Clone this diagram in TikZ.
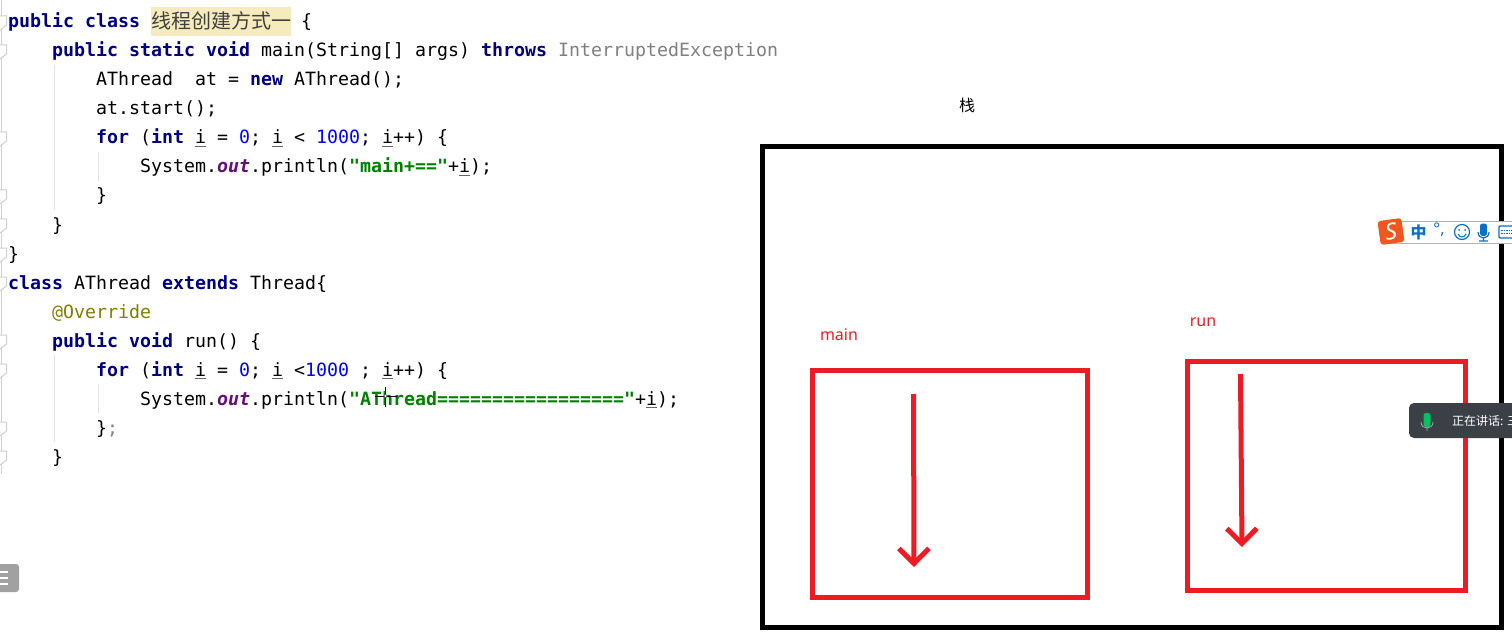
\documentclass[tikz,border=0pt]{standalone}
\usepackage{fontspec}
\setmainfont{Noto Sans}
\setmonofont{DejaVu Sans Mono}
\newfontfamily\cjkf{Noto Sans CJK SC}
\usetikzlibrary{arrows.meta}
\definecolor{kwc}{HTML}{000080}
\definecolor{numc}{HTML}{0000FF}
\definecolor{strc}{HTML}{008000}
\definecolor{annc}{HTML}{808000}
\definecolor{grc}{HTML}{808080}
\definecolor{purc}{HTML}{660E7A}
\definecolor{redc}{HTML}{ED1C24}
\definecolor{hlc}{HTML}{F6EBBC}
\definecolor{guide}{HTML}{E2E2E2}
\definecolor{gutterc}{HTML}{D0D0D0}
\definecolor{imeb}{HTML}{0F6FC0}
\definecolor{popc}{HTML}{3B3F46}
\definecolor{micg}{HTML}{00C060}
\definecolor{sogouc}{HTML}{F0561E}
\newcommand\kw[1]{\textcolor{kwc}{\bfseries #1}}
\newcommand\nm[1]{\textcolor{numc}{#1}}
\newcommand\st[1]{\textcolor{strc}{\bfseries #1}}
\newcommand\ou{\textcolor{purc}{\bfseries\itshape out}}
\newcommand\ui{\rlap{\textcolor{black!60}{\rule[-3pt]{11pt}{1pt}}}i}
\tikzset{
  codeline/.style={anchor=base west,inner sep=0pt,font=\ttfamily\fontsize{18.27}{20}\selectfont,text=black},
  labelred/.style={inner sep=0pt,text=redc,font=\fontsize{16}{18}\selectfont},
  redbox/.style={draw=redc,line width=4.5pt,inner sep=0pt},
  redarrow/.style={draw=redc,line width=5pt,-{Straight Barb[length=15pt,width=30pt,line width=5pt]}},
  guideline/.style={draw=guide,line width=1pt},
  foldmark/.style={draw=gutterc,line width=1pt,fill=white},
  imeglyph/.style={inner sep=0pt,text=imeb},
}
\begin{document}
\begin{tikzpicture}[x=1pt,y=-1pt]
\useasboundingbox (0,0) rectangle (1512,639);
\clip (0,0) rectangle (1512,639);
\fill[white] (0,0) rectangle (1512,639);
% gutter
\draw[draw=gutterc,line width=1pt] (1,0) -- (1,474);
\foreach \y in {22,51,138,196,225,254,283,341,370,428,457}
  \draw[foldmark] (0,\y-6) -- (6.5,\y-6) -- (6.5,\y+3) -- (0,\y+8);
% indent guides
\draw[guideline] (54.5,65) -- (54.5,210);
\draw[guideline] (98.5,152) -- (98.5,181);
\draw[guideline] (54.5,355) -- (54.5,442);
\draw[guideline] (98.5,384) -- (98.5,413);
% highlight
\fill[hlc] (151,7) rectangle (291,36);
% code
\node[codeline] (l1) at (8,28) {\kw{public class}};
\node[anchor=base west,inner sep=0pt,font=\cjkf\fontsize{20}{22}\selectfont,text=black!75] (title) at (151,28.5) {线程创建方式一};
\node[codeline] (l1b) at (301,28) {\{};
\node[codeline] (l2) at (52,57) {\kw{public static void} main(String[] args) \kw{throws} \textcolor{grc}{InterruptedException}};
\node[codeline] (l3) at (96,86) {AThread\ \ at = \kw{new} AThread();};
\node[codeline] (l4) at (96,115) {at.start();};
\node[codeline] (l5) at (96,144) {\kw{for} (\kw{int} \ui{} = \nm{0}; \ui{} < \nm{1000}; \ui{}++) \{};
\node[codeline] (l6) at (140,173) {System.\ou.println(\st{"main+=="}+\ui{});};
\node[codeline] (l7) at (96,202) {\}};
\node[codeline] (l8) at (52,231) {\}};
\node[codeline] (l9) at (8,260) {\}};
\node[codeline] (l10) at (8,289) {\kw{class} AThread \kw{extends} Thread\{};
\node[codeline] (l11) at (52,318) {\textcolor{annc}{@Override}};
\node[codeline] (l12) at (52,347) {\kw{public void} run() \{};
\node[codeline] (l13) at (96,376) {\kw{for} (\kw{int} \ui{} = \nm{0}; \ui{} <\nm{1000} ; \ui{}++) \{};
\node[codeline] (l14) at (140,405) {System.\ou.println(\st{"AThread================="}+\ui{});};
\node[codeline] (l15) at (96,434) {\}\textcolor{grc}{;}};
\node[codeline] (l16) at (52,463) {\}};
% text cursor
\draw[black,line width=.8pt] (385.5,387) -- (385.5,407);
\draw[black,line width=.7pt] (375,396) -- (397,396);
\draw[black!70,line width=.5pt,fill=white] (385.5,396) circle (1.8pt);
% left pill
\fill[black!37,rounded corners=3pt] (-6,564) rectangle (19,592);
\draw[white,line width=1.6pt] (0,572) -- (8,572) (0,578) -- (8,578) (0,584) -- (8,584);
% stack
\node[inner sep=0pt,font=\cjkf\fontsize{16}{18}\selectfont,text=black] (zhan) at (967,105) {栈};
\node[draw=black,line width=5pt,inner sep=0pt,minimum width=739pt,minimum height=480pt] (stack) at (1132,387) {};
\node[labelred] (mainl) at (839,335) {main};
\node[labelred] (runl) at (1203,322) {run};
\node[redbox,minimum width=275pt,minimum height=227pt] (mainbox) at (950,484) {};
\node[redbox,minimum width=278pt,minimum height=229pt] (runbox) at (1326.5,476) {};
\coordinate (ma) at (913.5,394);
\coordinate (mb) at (914,567);
\coordinate (ra) at (1240.5,374);
\coordinate (rb) at (1242,547);
\draw[redarrow] (ma) -- (mb);
\draw[redarrow] (ra) -- (rb);
% IME toolbar
\fill[white] (1384,221) rectangle (1512,243);
\draw[draw=black!30,line width=1pt] (1384,221) -- (1512,221) (1384,243) -- (1512,243);
\node[fill=sogouc,rounded corners=3pt,rotate=8,minimum size=24pt,inner sep=0pt,text=white,font=\bfseries\itshape\fontsize{23}{23}\selectfont] (sogou) at (1391,231.5) {S};
\node[imeglyph,font=\cjkf\bfseries\fontsize{16}{16}\selectfont] (zh) at (1418.5,232) {中};
\node[imeglyph,font=\bfseries\fontsize{16}{16}\selectfont] (punct) at (1439,230) {°,};
\node[draw=imeb,circle,line width=1.2pt,minimum size=15pt,inner sep=0pt] (smile) at (1462,232) {};
\fill[imeb] (1459,230) circle (1pt) (1465,230) circle (1pt);
\draw[imeb,line width=1pt] (1458,234) .. controls (1460,238) and (1464,238) .. (1466,234);
\fill[imeb,rounded corners=2.5pt] (1480,223.5) rectangle (1487,236);
\draw[imeb,line width=1.2pt] (1478,232) .. controls (1478,240) and (1489,240) .. (1489,232) (1483.5,238) -- (1483.5,241) (1479,241) -- (1488,241);
\draw[imeb,line width=1.4pt,rounded corners=1pt] (1499,226) rectangle (1514,238);
\draw[imeb,line width=1pt,dash pattern=on 1.5pt off 1pt] (1501,230) -- (1514,230) (1501,233) -- (1514,233);
% speaking popup
\fill[popc,rounded corners=5pt] (1409,403) rectangle (1530,438);
\fill[micg,rounded corners=2.5pt] (1423.5,413) rectangle (1430.5,427);
\draw[black!35,line width=.8pt] (1421,422) .. controls (1421,430) and (1433,430) .. (1433,422) (1427,428) -- (1427,431);
\draw[black!75,line width=1pt] (1445.5,406) -- (1445.5,435);
\node[anchor=west,inner sep=0pt,text=white,font=\cjkf\fontsize{12}{14}\selectfont] (speak) at (1452,421) {正在讲话: 三};
\end{tikzpicture}
\end{document}
